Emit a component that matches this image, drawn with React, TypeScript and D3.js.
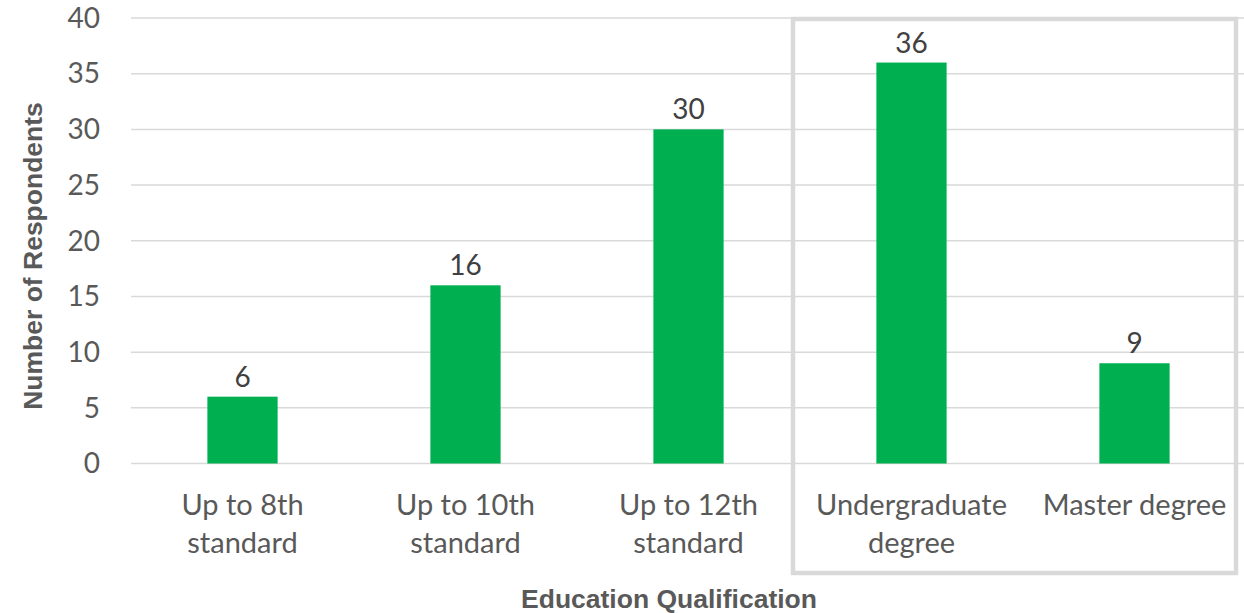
import React, { useEffect, useRef } from "react";
import * as d3 from "d3";

// Respondents by education level
const categories: string[][] = [
  ["Up to 8th", "standard"],
  ["Up to 10th", "standard"],
  ["Up to 12th", "standard"],
  ["Undergraduate", "degree"],
  ["Master degree"],
];
const respondents: number[] = [6, 16, 30, 36, 9];
const yTicks: number[] = [0, 5, 10, 15, 20, 25, 30, 35, 40];
const highlighted: number[] = [3, 4];

const WIDTH = 1244;
const HEIGHT = 613;
const BAR_COLOR = "#00B050";
const GRID_COLOR = "#D9D9D9";
const LABEL_FONT = "Lato, 'Open Sans', sans-serif";
const TITLE_FONT = "'Liberation Sans', Arial, sans-serif";

export default function App() {
  const ref = useRef<SVGSVGElement | null>(null);

  useEffect(() => {
    const svg = d3.select(ref.current);
    svg.selectAll("*").remove();

    const plot = { left: 131, right: 1246, top: 18, bottom: 463.5 };
    const ids = categories.map((_, i) => String(i));

    const x = d3.scaleBand<string>().domain(ids).range([plot.left, plot.right]).padding(0);
    const y = d3.scaleLinear().domain([0, 40]).range([plot.bottom, plot.top]);
    const barW = x.bandwidth() * 0.315;

    // horizontal gridlines
    svg
      .append("g")
      .selectAll("line")
      .data(yTicks)
      .join("line")
      .attr("x1", plot.left)
      .attr("x2", WIDTH)
      .attr("y1", (d) => y(d))
      .attr("y2", (d) => y(d))
      .attr("stroke", GRID_COLOR)
      .attr("stroke-width", 1.5);

    // y tick labels
    svg
      .append("g")
      .selectAll("text")
      .data(yTicks)
      .join("text")
      .attr("x", 100)
      .attr("y", (d) => y(d))
      .attr("dy", "0.35em")
      .attr("text-anchor", "end")
      .attr("font-family", LABEL_FONT)
      .attr("font-size", 28)
      .attr("fill", "#595959")
      .text((d) => d);

    // bars
    svg
      .append("g")
      .selectAll("rect")
      .data(respondents)
      .join("rect")
      .attr("x", (_, i) => (x(String(i)) as number) + (x.bandwidth() - barW) / 2)
      .attr("y", (d) => y(d))
      .attr("width", barW)
      .attr("height", (d) => y(0) - y(d))
      .attr("fill", BAR_COLOR);

    // value labels
    svg
      .append("g")
      .selectAll("text")
      .data(respondents)
      .join("text")
      .attr("x", (_, i) => (x(String(i)) as number) + x.bandwidth() / 2)
      .attr("y", (d) => y(d) - 10)
      .attr("text-anchor", "middle")
      .attr("font-family", LABEL_FONT)
      .attr("font-size", 28)
      .attr("fill", "#404040")
      .text((d) => d);

    // category labels
    const cat = svg
      .append("g")
      .selectAll("text")
      .data(categories)
      .join("text")
      .attr("x", (_, i) => (x(String(i)) as number) + x.bandwidth() / 2)
      .attr("y", 515)
      .attr("text-anchor", "middle")
      .attr("font-family", LABEL_FONT)
      .attr("font-size", 29)
      .attr("fill", "#595959");
    cat
      .selectAll("tspan")
      .data((d) => d)
      .join("tspan")
      .attr("x", function () {
        return (this.parentNode as SVGTextElement).getAttribute("x");
      })
      .attr("dy", (_, j) => (j === 0 ? 0 : 38))
      .text((d) => d);

    // highlight frame around the degree categories
    const first = x(String(highlighted[0])) as number;
    svg
      .append("rect")
      .attr("x", first - 7)
      .attr("y", 19)
      .attr("width", 443)
      .attr("height", 554)
      .attr("fill", "none")
      .attr("stroke", GRID_COLOR)
      .attr("stroke-width", 4.5);

    // axis titles
    svg
      .append("text")
      .attr("x", 669)
      .attr("y", 608)
      .attr("text-anchor", "middle")
      .attr("font-family", TITLE_FONT)
      .attr("font-weight", "bold")
      .attr("font-size", 26.5)
      .attr("fill", "#595959")
      .text("Education Qualification");

    svg
      .append("text")
      .attr("transform", "translate(42,256) rotate(-90)")
      .attr("text-anchor", "middle")
      .attr("font-family", TITLE_FONT)
      .attr("font-weight", "bold")
      .attr("font-size", 26.5)
      .attr("fill", "#595959")
      .text("Number of Respondents");
  }, []);

  return (
    <svg
      ref={ref}
      width={WIDTH}
      height={HEIGHT}
      style={{ position: "absolute", left: 0, top: 0, background: "#fff" }}
    />
  );
}
